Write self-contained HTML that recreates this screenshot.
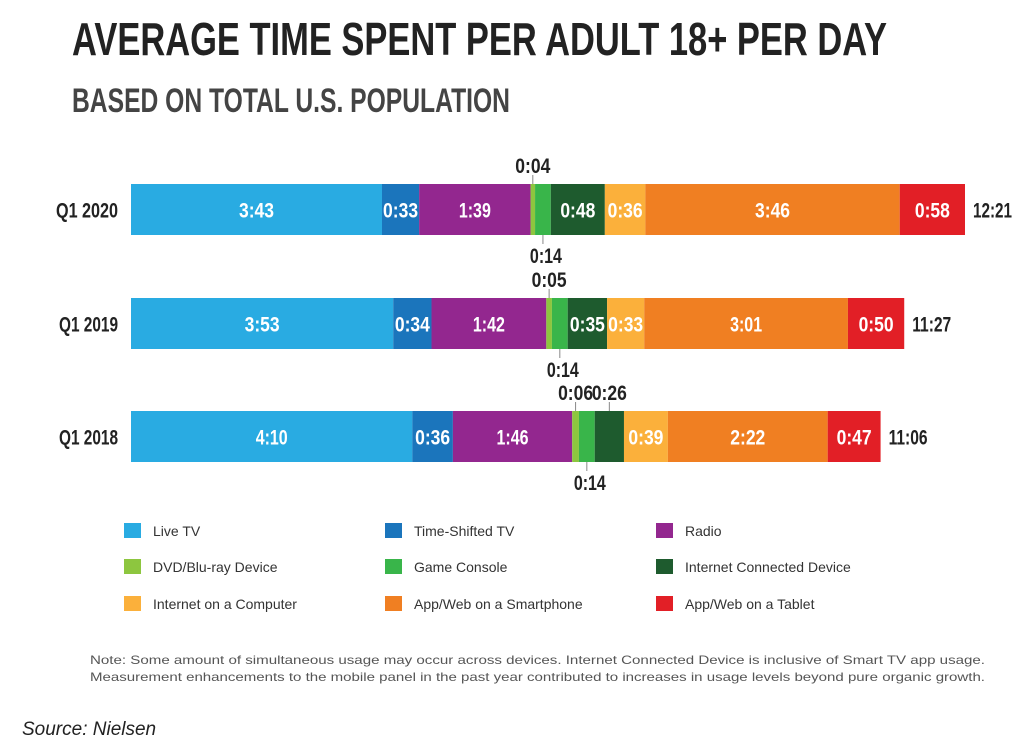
<!DOCTYPE html>
<html><head><meta charset="utf-8"><style>
body{margin:0;background:#fff;width:1024px;height:748px;overflow:hidden}
svg{display:block}
.c{font-family:"Liberation Sans Narrow","Liberation Sans",sans-serif;font-weight:bold}
.n{font-family:"Liberation Sans",sans-serif}
</style></head><body>
<svg id="chart" width="1024" height="748" viewBox="0 0 1024 748" xmlns="http://www.w3.org/2000/svg">
<text class="c" x="72" y="55" font-size="46" fill="#222" textLength="815" lengthAdjust="spacingAndGlyphs">AVERAGE TIME SPENT PER ADULT 18+ PER DAY</text>
<text class="c" x="72" y="112" font-size="34" fill="#444" font-weight="normal" textLength="438" lengthAdjust="spacingAndGlyphs">BASED ON TOTAL U.S. POPULATION</text>
<g id="bars"></g>
<g id="legend"></g>
<text class="n" x="90" y="664" font-size="12" fill="#555" textLength="895" lengthAdjust="spacingAndGlyphs">Note: Some amount of simultaneous usage may occur across devices. Internet Connected Device is inclusive of Smart TV app usage.</text>
<text class="n" x="90" y="681" font-size="12" fill="#555" textLength="895" lengthAdjust="spacingAndGlyphs">Measurement enhancements to the mobile panel in the past year contributed to increases in usage levels beyond pure organic growth.</text>
<text class="n" x="22" y="735" font-size="19" font-style="italic" fill="#222">Source: Nielsen</text>
</svg>
<script>
const categories = ["Q1 2020","Q1 2019","Q1 2018"];
const totals = ["12:21","11:27","11:06"];
const series = ["Live TV","Time-Shifted TV","Radio","DVD/Blu-ray Device","Game Console","Internet Connected Device","Internet on a Computer","App/Web on a Smartphone","App/Web on a Tablet"];
const liveTV = [223,233,250];
const timeShifted = [33,34,36];
const radio = [99,102,106];
const dvd = [4,5,6];
const gameConsole = [14,14,14];
const icd = [48,35,26];
const computer = [36,33,39];
const smartphone = [226,181,142];
const tablet = [58,50,47];
const values = [liveTV,timeShifted,radio,dvd,gameConsole,icd,computer,smartphone,tablet];
const colors = ["#29abe2","#1b75bc","#93278f","#8dc63f","#39b54a","#1e5b2e","#fbb03b","#f07f22","#e21f26"];
const NS="http://www.w3.org/2000/svg";
const x0=131, pxPerMin=834/741, barTops=[184,298,411], barH=51;
const xs=v=>x0+v*pxPerMin;
function fmt(m){return Math.floor(m/60)+":"+String(m%60).padStart(2,"0");}
function mk(tag,attrs,parent){const e=document.createElementNS(NS,tag);for(const k in attrs)e.setAttribute(k,attrs[k]);parent.appendChild(e);return e;}
function tl(s){let w=0;for(const ch of s){w+= ch===":"?5:(ch===" "?5:(ch==="1"?7:10));}return w;}
const gb=document.getElementById("bars");
categories.forEach((cat,i)=>{
  const y=barTops[i];
  const lab=mk("text",{x:118,y:y+barH/2+8,"font-size":21,fill:"#222","text-anchor":"end",class:"c",textLength:tl(cat),lengthAdjust:"spacingAndGlyphs"},gb);
  
  
  lab.textContent=cat;
  let cum=0;
  values.forEach((s,j)=>{
    const v=s[i];const a=xs(cum),b=xs(cum+v);cum+=v;
    const r=mk("rect",{x:a,y:y,width:b-a,height:barH,fill:colors[j]},gb);
    
    
    const cx=(a+b)/2;
    let pos="in";
    if(j===3) pos="above"; else if(j===4) pos="below"; else if(b-a<32) pos="above";
    const str=fmt(v);
    const t=mk("text",{"font-size":21,class:"c","text-anchor":"middle",textLength:tl(str),lengthAdjust:"spacingAndGlyphs"},gb);
    
    
    t.textContent=str;
    if(pos==="in"){t.setAttribute("x",cx);t.setAttribute("y",y+barH/2+8);t.setAttribute("fill","#fff");}
    else if(pos==="above"){t.setAttribute("x",cx);t.setAttribute("y",y-11);t.setAttribute("fill","#222");
      const l=mk("line",{x1:cx,x2:cx,y1:y-9,y2:y,stroke:"#888","stroke-width":1},gb);
      }
    else {t.setAttribute("x",cx+3);t.setAttribute("y",y+barH+28);t.setAttribute("fill","#222");
      const l=mk("line",{x1:cx,x2:cx,y1:y+barH,y2:y+barH+9,stroke:"#888","stroke-width":1},gb);
      }
  });
  const tt=mk("text",{x:xs(cum)+8,y:y+barH/2+8,"font-size":21,fill:"#222",class:"c",textLength:tl(totals[i]),lengthAdjust:"spacingAndGlyphs"},gb);
  
  
  tt.textContent=totals[i];
});
const gl=document.getElementById("legend");
const lx=[124,385,656], ly=[531,567,604];
series.forEach((s,j)=>{
  const x=lx[j%3], y=ly[Math.floor(j/3)];
  const g=mk("g",{},gl);
  
  
  mk("rect",{x:x,y:y-8,width:17,height:15,fill:colors[j]},g);
  const t=mk("text",{x:x+29,y:y+5,"font-size":14,fill:"#333",class:"n"},g);
  t.textContent=s;
});
</script>
</body></html>
